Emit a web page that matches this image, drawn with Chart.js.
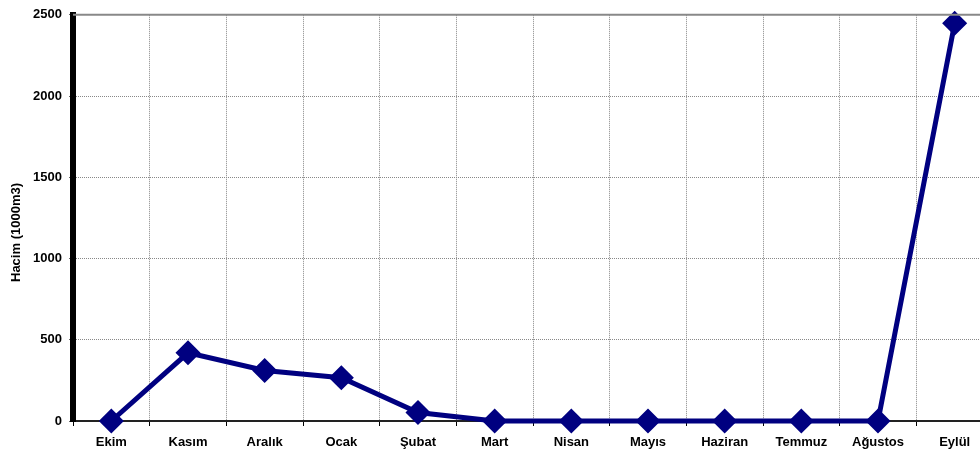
<!DOCTYPE html>
<html>
<head>
<meta charset="utf-8">
<script src="https://cdn.jsdelivr.net/npm/chart.js@4"></script>
<style>
  html, body { margin: 0; padding: 0; background: #fff; overflow: hidden; }
  #wrap { position: relative; width: 1007px; height: 453px; }
</style>
</head>
<body>
<div id="wrap"><canvas id="c"></canvas></div>
<script>
// Monthly volume, October through September
const months = ['Ekim', 'Kasım', 'Aralık', 'Ocak', 'Şubat', 'Mart', 'Nisan', 'Mayıs', 'Haziran', 'Temmuz', 'Ağustos', 'Eylül'];
const volume = [0, 420, 311, 266, 52, 0, 0, 0, 0, 0, 0, 2448];
const yTicks = [0, 500, 1000, 1500, 2000, 2500];
const yTitle = 'Hacim (1000m3)';

const font = { family: '"Liberation Sans", Arial, sans-serif', size: 13, weight: 'bold' };

// solid grey frame line along the top of the plot, plus the vertical axis title
// centred on the full canvas height
const frameAndTitle = {
  id: 'frameAndTitle',
  afterDraw(chart) {
    const { ctx, chartArea } = chart;
    const y = chart.scales.y.getPixelForValue(yTicks[yTicks.length - 1]);
    ctx.save();
    ctx.strokeStyle = '#888';
    ctx.lineWidth = 2;
    ctx.beginPath();
    ctx.moveTo(chartArea.left, y);
    ctx.lineTo(chartArea.right, y);
    ctx.stroke();

    ctx.translate(16, chart.height / 2 + 6);
    ctx.rotate(-Math.PI / 2);
    ctx.fillStyle = '#000';
    ctx.font = `${font.weight} ${font.size}px ${font.family}`;
    ctx.textAlign = 'center';
    ctx.textBaseline = 'middle';
    ctx.fillText(yTitle, 0, 0);
    ctx.restore();
  }
};

new Chart(document.getElementById('c'), {
  type: 'line',
  data: {
    labels: months,
    datasets: [{
      data: volume,
      borderColor: '#000080',
      backgroundColor: '#000080',
      borderWidth: 5,
      pointStyle: 'rectRot',
      pointRadius: 9,
      pointHoverRadius: 9,
      tension: 0,
      clip: false
    }]
  },
  options: {
    responsive: true,
    maintainAspectRatio: false,
    animation: false,
    layout: { padding: { top: 13, right: 6, left: 0, bottom: 0 } },
    plugins: { legend: { display: false }, tooltip: { enabled: false } },
    scales: {
      x: {
        offset: true,
        grid: {
          offset: true,
          color: '#888',
          lineWidth: 1,
          tickLength: 5,
          tickColor: '#000'
        },
        border: { color: '#222', width: 2, dash: [1, 1] },
        ticks: { color: '#000', font, padding: 9, maxRotation: 0, autoSkip: false },
        afterFit(scale) { scale.height = 32; }
      },
      y: {
        min: 0,
        max: 2500,
        afterBuildTicks(scale) { scale.ticks = yTicks.map(v => ({ value: v })); },
        grid: {
          color: '#888',
          lineWidth: 1,
          tickLength: 4,
          tickColor: '#666'
        },
        border: { color: '#000', width: 6, dash: [1, 1] },
        ticks: { color: '#000', font, padding: 7, callback: v => String(v) },
        afterFit(scale) { scale.width = 73; }
      }
    }
  },
  plugins: [frameAndTitle]
});
</script>
</body>
</html>
